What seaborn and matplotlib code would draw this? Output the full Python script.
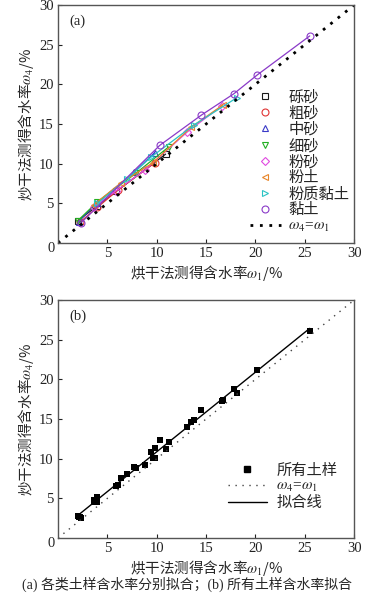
import numpy as np
import pandas as pd
import matplotlib
matplotlib.use("Agg")
import matplotlib.pyplot as plt
from matplotlib.lines import Line2D
import seaborn as sns

sns.set_style("white")
plt.rcParams['font.family'] = ['Liberation Serif', 'Noto Sans CJK SC', 'DejaVu Sans']
plt.rcParams['mathtext.fontset'] = 'stix'

# soil types and measured water content (oven-drying w1, frying w4), %
soils = ["砾砂", "粗砂", "中砂", "细砂", "粉砂", "粉土", "粉质黏土", "黏土"]
w1 = {
    "砾砂": [2.0, 3.9, 5.9, 10.9],
    "粗砂": [2.2, 4.0, 6.1, 9.8],
    "中砂": [2.1, 3.9, 7.7, 9.8],
    "细砂": [2.0, 4.0, 7.9, 11.2],
    "粉砂": [3.6, 5.9, 8.8, 13.1, 16.6],
    "粉土": [3.6, 6.4, 9.6, 13.5, 16.7],
    "粉质黏土": [4.0, 7.0, 9.4, 13.8, 18.1],
    "黏土": [2.3, 10.3, 14.5, 17.8, 20.2, 25.5],
}
w4 = {
    "砾砂": [2.8, 4.6, 6.5, 11.2],
    "粗砂": [2.6, 4.5, 6.7, 10.1],
    "中砂": [2.7, 5.0, 8.9, 11.4],
    "细砂": [2.8, 5.2, 8.8, 12.1],
    "粉砂": [4.5, 6.6, 9.2, 14.0, 17.3],
    "粉土": [4.8, 7.6, 10.1, 14.6, 17.4],
    "粉质黏土": [5.0, 8.1, 10.8, 14.9, 18.3],
    "黏土": [2.5, 12.3, 16.1, 18.8, 21.2, 26.1],
}
colors = ["#1a1a1a", "#e03434", "#3a3ac8", "#22b022", "#e04ae0", "#e8862a", "#2ac4c4", "#8a3ac8"]
markers = ["s", "o", "^", "v", "D", "<", ">", "o"]

rows = []
for s in soils:
    for a, b in zip(w1[s], w4[s]):
        rows.append((s, a, b))
df = pd.DataFrame(rows, columns=["soil", "w1", "w4"])

fig = plt.figure(figsize=(3.73, 6.01), dpi=100)
ax1 = fig.add_axes([0.1555, 0.5957, 0.794, 0.396])
ax2 = fig.add_axes([0.1555, 0.1048, 0.794, 0.396])

xlab = r'烘干法测得含水率$\omega_1$/%'
ylab = r'炒干法测得含水率$\omega_4$/%'
cjk = "Noto Sans CJK SC"
line = np.array([0, 30])

# (a) each soil type
for s, c, m in zip(soils, colors, markers):
    sub = df[df["soil"] == s]
    ms = 4 if m == "D" else 5
    sns.lineplot(data=sub, x="w1", y="w4", ax=ax1, color=c, lw=0.9, marker=m,
                 markersize=ms, mfc="none", mec=c, mew=0.8, sort=False)
ax1.plot(line, line, color="black", lw=2, ls=(0, (1, 2.4)))
handles = [Line2D([], [], ls="none", marker=m, ms=(4 if m == "D" else 5), mfc="none",
                  mec=c, mew=0.8) for c, m in zip(colors, markers)]
handles.append(Line2D([], [], color="black", lw=2, ls=(0, (1, 2.4))))
labels = soils + [r'$\omega_4$=$\omega_1$']
ax1.legend(handles, labels, loc="lower right", frameon=False, fontsize=11,
           labelspacing=0.12, handlelength=2.0, handletextpad=0.5,
           bbox_to_anchor=(1.03, -0.02))
ax1.text(0.04, 0.93, "(a)", transform=ax1.transAxes, fontsize=10.5, va="center")

# (b) all samples
sns.scatterplot(data=df, x="w1", y="w4", ax=ax2, marker="s", color="black",
                s=22, linewidth=0)
k, b0 = np.polyfit(df["w1"], df["w4"], 1)
fx = np.array([df["w1"].min(), df["w1"].max()])
ax2.plot(fx, k * fx + b0, color="black", lw=1)
ax2.plot(line, line, color="#444444", lw=1, ls=(0, (1, 4)))
handles2 = [Line2D([], [], ls="none", marker="s", ms=5, color="black"),
            Line2D([], [], color="#444444", lw=1, ls=(0, (1, 4))),
            Line2D([], [], color="black", lw=1)]
ax2.legend(handles2, ["所有土样", r'$\omega_4$=$\omega_1$', "拟合线"], loc="lower right",
           frameon=False, fontsize=11, labelspacing=0.12, handlelength=2.6,
           handletextpad=0.6, bbox_to_anchor=(0.99, 0.06))
ax2.text(0.04, 0.93, "(b)", transform=ax2.transAxes, fontsize=10.5, va="center")

for ax in (ax1, ax2):
    ax.set_xlim(0, 30)
    ax.set_ylim(0, 30)
    ax.set_xticks([5, 10, 15, 20, 25, 30])
    ax.set_yticks([5, 10, 15, 20, 25, 30])
    ax.tick_params(direction="in", length=3, labelsize=10.5, colors="#222222",
                   bottom=True, left=True, pad=3)
    for sp in ax.spines.values():
        sp.set_color("#555555")
        sp.set_linewidth(1)
    ax.set_xlabel(xlab, fontsize=10.5, family=cjk, labelpad=2)
    ax.set_ylabel(ylab, fontsize=10.5, family=cjk, labelpad=2)
    ax.annotate("0", xy=(0, 0), xycoords="axes fraction", xytext=(-2, -4),
                textcoords="offset points", ha="right", va="center", fontsize=10.5)

fig.text(0.5, 0.027, "(a) 各类土样含水率分别拟合；(b) 所有土样含水率拟合",
         ha="center", va="center", fontsize=10)

fig.savefig("out.png", dpi=100, facecolor="white")
